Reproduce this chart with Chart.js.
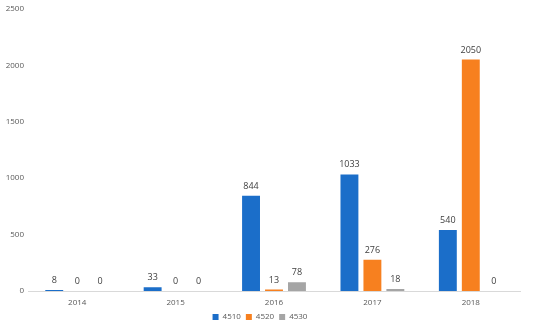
<!DOCTYPE html>
<html>
<head>
<meta charset="utf-8">
<script src="https://cdn.jsdelivr.net/npm/chart.js@4"></script>
<style>
  body { margin: 0; background: #fff; }
  #wrap { width: 550px; height: 325px; }
</style>
</head>
<body>
<div id="wrap"><canvas id="my-chart"></canvas></div>
<script>
const years = ['2014', '2015', '2016', '2017', '2018'];
const s4510 = [8, 33, 844, 1033, 540];
const s4520 = [0, 0, 13, 276, 2050];
const s4530 = [0, 0, 78, 18, 0];
const yTicks = [0, 500, 1000, 1500, 2000, 2500];

// draws the value above each bar
const valueLabels = {
  id: 'valueLabels',
  afterDatasetsDraw(chart) {
    const ctx = chart.ctx;
    ctx.save();
    ctx.font = '9px "Open Sans", sans-serif';
    ctx.fillStyle = '#404040';
    ctx.textAlign = 'center';
    ctx.textBaseline = 'bottom';
    chart.data.datasets.forEach((ds, i) => {
      chart.getDatasetMeta(i).data.forEach((bar, j) => {
        ctx.fillText(ds.data[j], bar.x, bar.y - 5);
      });
    });
    ctx.restore();
  }
};

// pull the legend a bit closer to the x labels
const legendNudge = {
  id: 'legendNudge',
  afterLayout(chart) {
    if (chart.legend) {
      chart.legend.top -= 7;
      chart.legend.bottom -= 7;
    }
  }
};

const ctx = document.getElementById('my-chart').getContext('2d');
new Chart(ctx, {
  type: 'bar',
  data: {
    labels: years,
    datasets: [
      { label: '4510', data: s4510, backgroundColor: '#1b6ec9' },
      { label: '4520', data: s4520, backgroundColor: '#f7801f' },
      { label: '4530', data: s4530, backgroundColor: '#a5a5a5' }
    ]
  },
  options: {
    responsive: true,
    maintainAspectRatio: false,
    animation: false,
    layout: { padding: { top: 4, right: 30, left: 0, bottom: -13 } },
    datasets: { bar: { barPercentage: 0.78, categoryPercentage: 0.7 } },
    scales: {
      x: {
        grid: { display: false, drawTicks: false },
        border: { color: '#d9d9d9' },
        ticks: { color: '#595959', font: { size: 8, lineHeight: 1, family: '"Open Sans", sans-serif' }, padding: 8 }
      },
      y: {
        min: 0,
        max: 2500,
        afterBuildTicks: (scale) => { scale.ticks = yTicks.map((v) => ({ value: v })); },
        afterFit: (scale) => { scale.width = 28; },
        grid: { display: false, drawTicks: false },
        border: { display: false },
        ticks: {
          color: '#595959',
          font: { size: 8, family: '"Open Sans", sans-serif' },
          padding: 4,
          callback: (v) => String(v)
        }
      }
    },
    plugins: {
      tooltip: { enabled: false },
      legend: {
        position: 'bottom',
        labels: {
          boxWidth: 6,
          boxHeight: 6,
          padding: 5,
          color: '#595959',
          font: { size: 8, family: '"Open Sans", sans-serif' }
        }
      }
    }
  },
  plugins: [valueLabels, legendNudge]
});
</script>
</body>
</html>
